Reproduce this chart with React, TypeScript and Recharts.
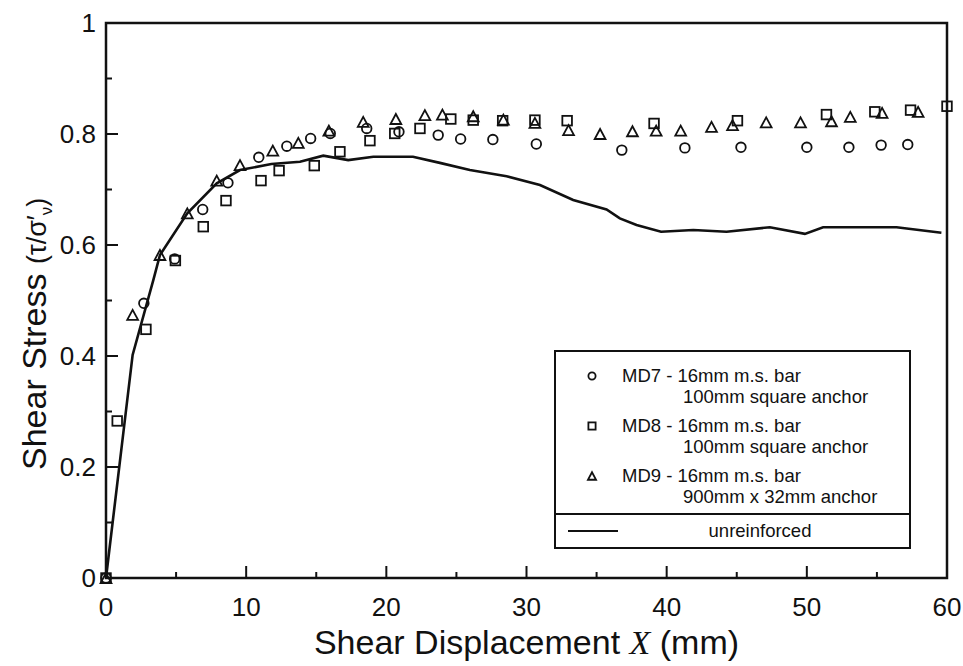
import React from "react";
import {
  ComposedChart,
  Line,
  Scatter,
  XAxis,
  YAxis,
  ReferenceArea,
  Legend,
  Label,
} from "recharts";

// [shear displacement (mm), tau / sigma'v]
const md7: [number, number][] = [
  [0, 0], [2.7, 0.495], [4.9, 0.575], [6.9, 0.664], [8.7, 0.712], [10.9, 0.758],
  [12.9, 0.778], [14.6, 0.792], [16.0, 0.801], [18.6, 0.81], [20.9, 0.804],
  [23.7, 0.798], [25.3, 0.791], [27.6, 0.79], [30.7, 0.782], [36.8, 0.771],
  [41.3, 0.775], [45.3, 0.776], [50.0, 0.776], [53.0, 0.776], [55.3, 0.78],
  [57.2, 0.781],
];

const md8: [number, number][] = [
  [0, 0], [0.8, 0.283], [2.85, 0.448], [4.95, 0.572], [6.94, 0.633], [8.56, 0.68],
  [11.06, 0.716], [12.35, 0.734], [14.86, 0.743], [16.69, 0.768], [18.83, 0.788],
  [20.6, 0.801], [22.4, 0.81], [24.6, 0.827], [26.2, 0.825], [28.3, 0.824],
  [30.6, 0.825], [32.9, 0.824], [39.1, 0.819], [45.05, 0.824], [51.4, 0.835],
  [54.85, 0.84], [57.4, 0.843], [60, 0.85],
];

const md9: [number, number][] = [
  [0, 0], [1.9, 0.474], [3.85, 0.582], [5.8, 0.657], [7.9, 0.716], [9.56, 0.744],
  [11.9, 0.77], [13.72, 0.784], [15.9, 0.806], [18.35, 0.822], [20.68, 0.827],
  [22.75, 0.834], [24.0, 0.835], [26.2, 0.832], [28.35, 0.826], [30.6, 0.82],
  [33.0, 0.807], [35.25, 0.8], [37.56, 0.805], [39.25, 0.806], [41.0, 0.806],
  [43.2, 0.813], [44.7, 0.816], [47.1, 0.821], [49.55, 0.821], [51.76, 0.823],
  [53.1, 0.831], [55.37, 0.838], [57.94, 0.84],
];

const unreinforced: [number, number][] = [
  [0, 0], [1.9, 0.402], [3.38, 0.537], [3.85, 0.582], [5.8, 0.657], [7.9, 0.711],
  [9.56, 0.735], [11.8, 0.746], [13.84, 0.75], [15.5, 0.761], [17.28, 0.753],
  [19.07, 0.759], [21.9, 0.759], [23.82, 0.748], [25.96, 0.735], [28.58, 0.724],
  [30.96, 0.708], [33.33, 0.681], [35.71, 0.664], [36.66, 0.648], [37.85, 0.636],
  [39.6, 0.624], [41.9, 0.627], [44.27, 0.624], [47.36, 0.632], [49.86, 0.62],
  [51.16, 0.632], [53.3, 0.632], [56.4, 0.632], [59.6, 0.622],
];

const xTicks = [0, 5, 10, 15, 20, 25, 30, 35, 40, 45, 50, 55, 60];
const yTicks = [0, 0.1, 0.2, 0.3, 0.4, 0.5, 0.6, 0.7, 0.8, 0.9, 1];
const yLabelled = [0, 0.2, 0.4, 0.6, 0.8, 1];

const legendRows = [
  { shape: "circle", line1: "MD7 - 16mm m.s. bar", line2: "100mm square anchor" },
  { shape: "square", line1: "MD8 - 16mm m.s. bar", line2: "100mm square anchor" },
  { shape: "triangle", line1: "MD9 - 16mm m.s. bar", line2: "900mm x 32mm anchor" },
];

const FONT = "'Liberation Sans', Arial, Helvetica, sans-serif";
const INK = "#111";

const toPoints = (d: [number, number][]) => d.map(([x, y]) => ({ x, y }));

function Marker({ cx, cy, kind, s = 1 }: { cx: number; cy: number; kind: string; s?: number }) {
  if (kind === "circle") {
    return <circle cx={cx} cy={cy} r={4.8 * s} fill="none" stroke={INK} strokeWidth={1.8} />;
  }
  if (kind === "square") {
    const h = 4.8 * s;
    return <rect x={cx - h} y={cy - h} width={2 * h} height={2 * h} fill="none" stroke={INK} strokeWidth={1.8} />;
  }
  const w = 5.4 * s;
  const h = 5 * s;
  return (
    <polygon
      points={`${cx - w},${cy + h} ${cx + w},${cy + h} ${cx},${cy - h}`}
      fill="none"
      stroke={INK}
      strokeWidth={1.8}
    />
  );
}

function XTick(props: any) {
  const { x, y, payload } = props;
  const v = payload.value;
  const major = v % 10 === 0;
  return (
    <g>
      <line x1={x} x2={x} y1={y} y2={y - (major ? 12 : 6)} stroke={INK} strokeWidth={2} />
      {major && (
        <text x={x} y={y + 38} textAnchor="middle" fontSize={26} fontFamily={FONT} fill={INK}>
          {v}
        </text>
      )}
    </g>
  );
}

function YTick(props: any) {
  const { x, y, payload } = props;
  const v = payload.value;
  const major = yLabelled.some((t) => Math.abs(t - v) < 1e-6);
  return (
    <g>
      <line x1={x} x2={x + (major ? 12 : 6)} y1={y} y2={y} stroke={INK} strokeWidth={2} />
      {major && (
        <text x={x - 10} y={y + 9} textAnchor="end" fontSize={26} fontFamily={FONT} fill={INK}>
          {String(Math.round(v * 10) / 10)}
        </text>
      )}
    </g>
  );
}

function LegendBox() {
  return (
    <div
      style={{
        position: "relative",
        width: 357,
        height: 199,
        border: "2px solid #111",
        boxSizing: "border-box",
        fontFamily: FONT,
        fontSize: 18.5,
        color: INK,
        background: "#fff",
      }}
    >
      {legendRows.map((r, i) => (
        <React.Fragment key={r.line1}>
          <svg style={{ position: "absolute", left: 28, top: 16 + 50 * i }} width={16} height={16}>
            <Marker cx={8} cy={8} kind={r.shape} s={0.75} />
          </svg>
          <div style={{ position: "absolute", left: 66, top: 13 + 50 * i, lineHeight: "21px", whiteSpace: "nowrap" }}>
            {r.line1}
          </div>
          <div style={{ position: "absolute", left: 127, top: 34 + 50 * i, lineHeight: "21px", whiteSpace: "nowrap" }}>
            {r.line2}
          </div>
        </React.Fragment>
      ))}
      <div style={{ position: "absolute", left: 0, right: 0, top: 161, borderTop: "2px solid #111" }} />
      <div style={{ position: "absolute", left: 12, top: 178, width: 50, borderTop: "2px solid #111" }} />
      <div style={{ position: "absolute", left: 104, width: 200, top: 168, lineHeight: "21px", textAlign: "center" }}>
        unreinforced
      </div>
    </div>
  );
}

export default function App() {
  return (
    <div style={{ position: "absolute", left: 0, top: 0, background: "#fff" }}>
      <ComposedChart width={963} height={666} margin={{ top: 23, right: 16, left: 0, bottom: 0 }}>
        <XAxis
          type="number"
          dataKey="x"
          domain={[0, 60]}
          ticks={xTicks}
          interval={0}
          height={88}
          tickSize={0}
          tickMargin={0}
          axisLine={false}
          tick={<XTick />}
        >
          <Label
            content={(p: any) => {
              const vb = p.viewBox;
              const cx = vb.x + vb.width / 2;
              return (
                <text x={cx} y={654} textAnchor="middle" fontSize={34} fontFamily={FONT} fill={INK}>
                  Shear Displacement{" "}
                  <tspan fontFamily="'Liberation Serif', 'Times New Roman', serif" fontStyle="italic">X</tspan>
                  {" "}(mm)
                </text>
              );
            }}
          />
        </XAxis>
        <YAxis
          type="number"
          dataKey="y"
          domain={[0, 1]}
          ticks={yTicks}
          interval={0}
          width={106}
          tickSize={0}
          tickMargin={0}
          axisLine={false}
          tick={<YTick />}
        >
          <Label
            content={() => (
              <text
                x={46}
                y={470}
                transform="rotate(-90, 46, 470)"
                textAnchor="start"
                fontSize={34}
                fontFamily={FONT}
                fill={INK}
              >
                Shear Stress{" "}
                <tspan fontSize={27}>(τ/σ′</tspan>
                <tspan fontSize={17} dy={6}>ν</tspan>
                <tspan fontSize={27} dy={-6}>)</tspan>
              </text>
            )}
          />
        </YAxis>
        <ReferenceArea x1={0} x2={60} y1={0} y2={1} fill="none" stroke={INK} strokeWidth={2.5} ifOverflow="visible" />
        <Line
          data={toPoints(unreinforced)}
          dataKey="y"
          type="linear"
          stroke={INK}
          strokeWidth={2.6}
          dot={false}
          isAnimationActive={false}
        />
        <Scatter
          data={toPoints(md7)}
          dataKey="y"
          isAnimationActive={false}
          shape={(p: any) => <Marker cx={p.cx} cy={p.cy} kind="circle" />}
        />
        <Scatter
          data={toPoints(md8)}
          dataKey="y"
          isAnimationActive={false}
          shape={(p: any) => <Marker cx={p.cx} cy={p.cy} kind="square" />}
        />
        <Scatter
          data={toPoints(md9)}
          dataKey="y"
          isAnimationActive={false}
          shape={(p: any) => <Marker cx={p.cx} cy={p.cy} kind="triangle" />}
        />
        <Legend
          layout="horizontal"
          verticalAlign="middle"
          align="center"
          content={() => <LegendBox />}
          wrapperStyle={{ position: "absolute", left: 554, top: 350, width: 357, height: 199 }}
        />
      </ComposedChart>
    </div>
  );
}
